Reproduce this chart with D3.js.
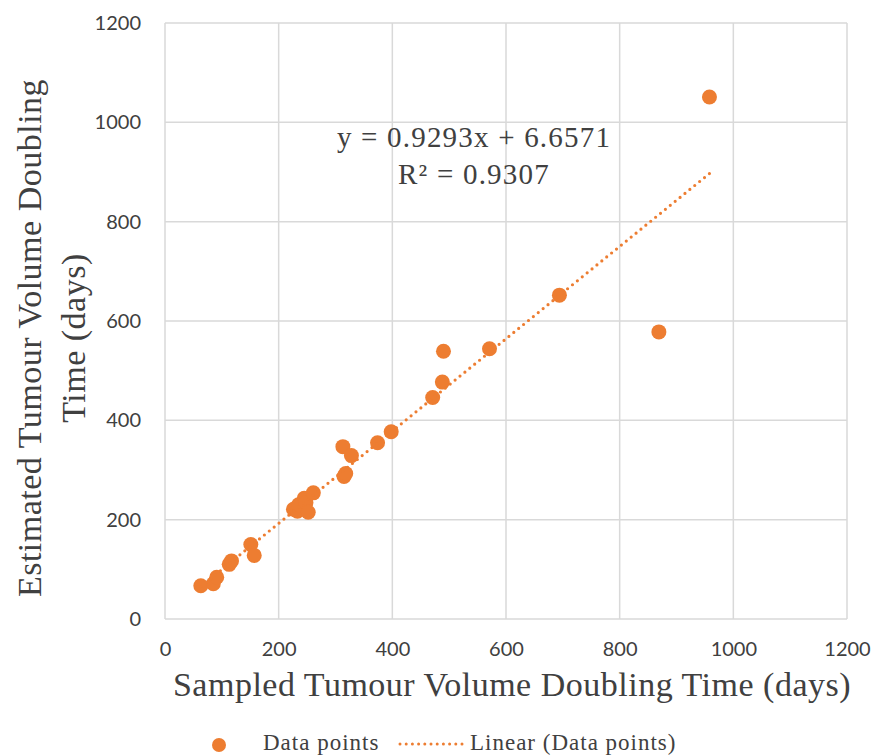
<!DOCTYPE html>
<html>
<head>
<meta charset="utf-8">
<script src="https://cdn.jsdelivr.net/npm/d3@7"></script>
<style>
  body { margin: 0; background: #fff; }
  svg { display: block; }
</style>
</head>
<body>
<div id="chart"></div>
<script>
// sampled vs estimated doubling time (days)
const sampled = [63, 85, 91, 113, 117, 151, 157, 226, 233, 235, 245, 248, 252, 261,
  313, 315, 318, 328, 374, 398, 471, 488, 490, 571, 694, 869, 958];
const estimated = [67, 71, 84, 110, 117, 150, 128, 221, 217, 230, 243, 234, 215, 254,
  347, 287, 293, 329, 355, 377, 446, 477, 539, 544, 652, 578, 1051];
const xTicks = [0, 200, 400, 600, 800, 1000, 1200];
const yTicks = [0, 200, 400, 600, 800, 1000, 1200];
const slope = 0.9293, intercept = 6.6571;
const eqLines = ["y = 0.9293x + 6.6571", "R² = 0.9307"];
const legendLabels = ["Data points", "Linear (Data points)"];

const width = 874, height = 755;
const margin = { top: 23, right: 27, bottom: 136, left: 165 };
const orange = "#ED7D31";
const serif = "'Liberation Serif', serif";
const sans = "Lato, 'Open Sans', sans-serif";
const textCol = "#404040";

const svg = d3.select("#chart").append("svg")
  .attr("width", width).attr("height", height);

const x = d3.scaleLinear().domain([0, 1200]).range([margin.left, width - margin.right]);
const y = d3.scaleLinear().domain([0, 1200]).range([height - margin.bottom, margin.top]);

// gridlines
svg.append("g").selectAll("line").data(xTicks).join("line")
  .attr("x1", d => x(d)).attr("x2", d => x(d))
  .attr("y1", y(0)).attr("y2", y(1200))
  .attr("stroke", "#d9d9d9").attr("stroke-width", 1.5);
svg.append("g").selectAll("line").data(yTicks).join("line")
  .attr("x1", x(0)).attr("x2", x(1200))
  .attr("y1", d => y(d)).attr("y2", d => y(d))
  .attr("stroke", "#d9d9d9").attr("stroke-width", 1.5);

// axes (labels only)
const xAxis = svg.append("g")
  .attr("transform", `translate(0,${y(0)})`)
  .call(d3.axisBottom(x).tickValues(xTicks).tickFormat(d3.format("d")).tickSize(0).tickPadding(23));
const yAxis = svg.append("g")
  .attr("transform", `translate(${x(0)},0)`)
  .call(d3.axisLeft(y).tickValues(yTicks).tickFormat(d3.format("d")).tickSize(0).tickPadding(24));
[xAxis, yAxis].forEach(a => {
  a.select(".domain").remove();
  a.selectAll("text").attr("fill", textCol)
    .style("font-family", sans).style("font-size", "20px");
});

// points
const pts = sampled.map((v, i) => [v, estimated[i]]);
svg.append("g").selectAll("circle").data(pts).join("circle")
  .attr("cx", d => x(d[0])).attr("cy", d => y(d[1]))
  .attr("r", 7.5).attr("fill", orange);

// trendline
const xMin = d3.min(sampled), xMax = d3.max(sampled);
svg.append("line")
  .attr("x1", x(xMin)).attr("y1", y(slope * xMin + intercept))
  .attr("x2", x(xMax)).attr("y2", y(slope * xMax + intercept))
  .attr("stroke", orange).attr("stroke-width", 3.2)
  .attr("stroke-dasharray", "0 6.3").attr("stroke-linecap", "round");

// equation
svg.append("g").selectAll("text").data(eqLines).join("text")
  .attr("x", 474).attr("y", (d, i) => 147 + i * 37)
  .attr("text-anchor", "middle")
  .style("font-family", serif).style("font-size", "29px")
  .style("letter-spacing", "1.2px").attr("fill", textCol)
  .text(d => d);

// axis titles
svg.append("text")
  .attr("x", 512).attr("y", 696).attr("text-anchor", "middle")
  .style("font-family", serif).style("font-size", "34px")
  .style("letter-spacing", "0.5px").attr("fill", textCol)
  .text("Sampled Tumour Volume Doubling Time (days)");
const yTitle = svg.append("text")
  .attr("transform", "translate(41,338) rotate(-90)")
  .attr("text-anchor", "middle")
  .style("font-family", serif).style("font-size", "34px")
  .style("letter-spacing", "0.5px").attr("fill", textCol);
yTitle.append("tspan").attr("x", 0).attr("y", 0).text("Estimated Tumour Volume Doubling");
yTitle.append("tspan").attr("x", 0).attr("y", 44).text("Time (days)");

// legend
const lg = svg.append("g");
lg.append("circle").attr("cx", 219).attr("cy", 745).attr("r", 7).attr("fill", orange);
lg.append("text").attr("x", 263).attr("y", 750)
  .style("font-family", serif).style("font-size", "23px")
  .style("letter-spacing", "1px").attr("fill", textCol)
  .text(legendLabels[0]);
lg.append("line").attr("x1", 400).attr("x2", 462).attr("y1", 744).attr("y2", 744)
  .attr("stroke", orange).attr("stroke-width", 3)
  .attr("stroke-dasharray", "0 6.2").attr("stroke-linecap", "round");
lg.append("text").attr("x", 470).attr("y", 750)
  .style("font-family", serif).style("font-size", "23px")
  .style("letter-spacing", "1px").attr("fill", textCol)
  .text(legendLabels[1]);
</script>
</body>
</html>
